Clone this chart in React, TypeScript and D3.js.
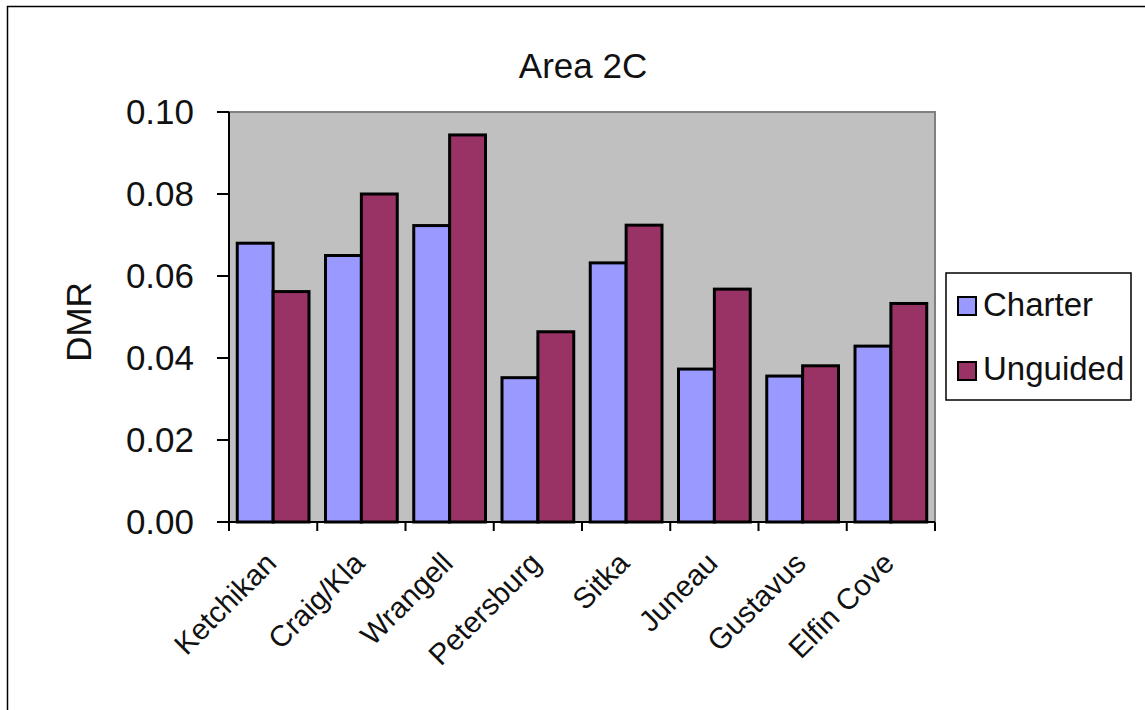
import React from "react";
import * as d3 from "d3";

const categories = ["Ketchikan", "Craig/Kla", "Wrangell", "Petersburg", "Sitka", "Juneau", "Gustavus", "Elfin Cove"];
const seriesNames = ["Charter", "Unguided"];
const charter = [0.068, 0.065, 0.0723, 0.0352, 0.0632, 0.0373, 0.0356, 0.0429];
const unguided = [0.0562, 0.08, 0.0944, 0.0464, 0.0724, 0.0568, 0.0381, 0.0533];
const yTicks = [0, 0.02, 0.04, 0.06, 0.08, 0.1];
const colors = ["#9999FF", "#993366"];

const W = 1145, H = 710;
const plot = { left: 229, top: 112, right: 935, bottom: 522 };
const FONT = "Arial, 'Liberation Sans', sans-serif";

export default function App() {
  const x = d3.scaleBand<string>().domain(categories).range([plot.left, plot.right]).paddingInner(0).paddingOuter(0);
  const inner = d3.scaleBand<string>().domain(seriesNames).range([0, x.bandwidth()]).paddingInner(0).paddingOuter(0.23);
  const y = d3.scaleLinear().domain([0, 0.1]).range([plot.bottom, plot.top]);
  const data = [charter, unguided];
  const fmt = d3.format(".2f");
  const boundaries = d3.range(categories.length + 1).map((i) => plot.left + i * x.bandwidth());

  return (
    <svg width={W} height={H} style={{ position: "absolute", left: 0, top: 0, background: "#fff" }} fontFamily={FONT}>
      <rect x={7.5} y={6.5} width={W + 20} height={H + 20} fill="#fff" stroke="#000" strokeWidth={1.5} />
      <text x={583} y={78} textAnchor="middle" fontSize={35} fill="#111">Area 2C</text>
      <rect x={plot.left} y={plot.top} width={plot.right - plot.left} height={plot.bottom - plot.top} fill="#C0C0C0" stroke="#808080" strokeWidth={2} />
      {data.map((vals, si) =>
        vals.map((v, i) => (
          <rect key={`${si}-${i}`}
            x={(x(categories[i]) as number) + (inner(seriesNames[si]) as number)}
            y={y(v)}
            width={inner.bandwidth()}
            height={y(0) - y(v)}
            fill={colors[si]} stroke="#000" strokeWidth={3} />
        ))
      )}
      <line x1={plot.left} x2={plot.left} y1={plot.top} y2={plot.bottom} stroke="#000" strokeWidth={2} />
      <line x1={plot.left} x2={plot.right} y1={plot.bottom} y2={plot.bottom} stroke="#000" strokeWidth={2} />
      {yTicks.map((t) => (
        <g key={t}>
          <line x1={plot.left - 12} x2={plot.left} y1={y(t)} y2={y(t)} stroke="#000" strokeWidth={2} />
          <text x={194} y={y(t) + 12} textAnchor="end" fontSize={35} fill="#111">{fmt(t)}</text>
        </g>
      ))}
      {boundaries.map((bx, i) => (
        <line key={i} x1={bx} x2={bx} y1={plot.bottom} y2={plot.bottom + 9} stroke="#000" strokeWidth={2} />
      ))}
      {categories.map((c) => {
        const cx = (x(c) as number) + x.bandwidth() / 2 + 5;
        const cy = plot.bottom + 43;
        return (
          <text key={c} transform={`translate(${cx},${cy}) rotate(-45)`} textAnchor="end" fontSize={29.5} fill="#111">{c}</text>
        );
      })}
      <text transform={`translate(91,322) rotate(-90)`} textAnchor="middle" fontSize={35} fill="#111">DMR</text>
      <rect x={946} y={273} width={185} height={127} fill="#fff" stroke="#000" strokeWidth={1.5} />
      {seriesNames.map((s, i) => (
        <g key={s}>
          <rect x={958} y={297 + i * 65} width={18} height={18} fill={colors[i]} stroke="#000" strokeWidth={2} />
          <text x={983} y={316 + i * 64} fontSize={33} fill="#111">{s}</text>
        </g>
      ))}
    </svg>
  );
}
